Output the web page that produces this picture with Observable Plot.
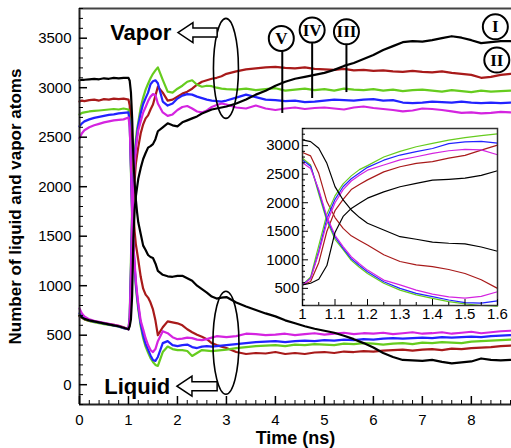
<!DOCTYPE html>
<html>
<head>
<meta charset="utf-8">
<script src="https://cdn.jsdelivr.net/npm/d3@7"></script>
<script src="https://cdn.jsdelivr.net/npm/@observablehq/plot@0.6"></script>
<style>
  html, body { margin: 0; padding: 0; background: #fff; }
  #wrap { position: relative; width: 511px; height: 448px; overflow: hidden; }
  #inset { position: absolute; left: 257px; top: 126px; }
</style>
</head>
<body>
<div id="wrap"><div id="main"></div><div id="inset"></div></div>
<script>
// ---- data ----
const time = [0, 0.05, 0.1, 0.2, 0.3, 0.4, 0.5, 0.6, 0.7, 0.8, 0.9,
  1.0, 1.025, 1.05, 1.075, 1.1, 1.125, 1.15, 1.175, 1.2, 1.25, 1.3, 1.35, 1.4, 1.45, 1.5, 1.55, 1.6,
  1.7, 1.8, 1.9, 2.0, 2.1, 2.2, 2.3, 2.4, 2.5, 2.6, 2.7, 2.8, 2.9, 3.0,
  3.2, 3.4, 3.6, 3.8, 4.0, 4.2, 4.4, 4.6, 4.8, 5.0, 5.2, 5.4, 5.6, 5.8, 6.0, 6.2, 6.4, 6.6, 6.8,
  7.0, 7.2, 7.4, 7.6, 7.8, 8.0, 8.2, 8.4, 8.6, 8.8];

const liquidI = [3075, 3080, 3080, 3085, 3090, 3085, 3095, 3090, 3100, 3095, 3100,
  3100, 3070, 2953, 2690, 2282, 2048, 1873, 1744, 1640, 1522, 1405, 1360, 1310, 1290, 1280, 1225, 1150,
  1110, 1095, 1090, 1100, 1100, 1075, 1050, 1000, 965, 930, 890, 870, 880, 885,
  830, 790, 755, 720, 690, 650, 620, 590, 565, 545, 525, 495, 460, 420, 375, 320, 280, 250, 245,
  240, 250, 230, 215, 225, 235, 265, 250, 245, 250];
const vaporI = [700, 680, 665, 650, 640, 630, 620, 610, 600, 590, 575,
  560, 590, 660, 900, 1480, 1760, 1900, 1990, 2080, 2190, 2280, 2340, 2395, 2410, 2430, 2480, 2560,
  2600, 2640, 2620, 2610, 2650, 2670, 2690, 2710, 2740, 2760, 2780, 2790, 2800, 2810,
  2840, 2880, 2930, 2970, 3020, 3060, 3090, 3110, 3130, 3150, 3180, 3220, 3250, 3290, 3330, 3380, 3420, 3460, 3470,
  3465, 3480, 3500, 3520, 3505, 3480, 3450, 3460, 3470, 3470];

const liquidII = [2860, 2870, 2865, 2875, 2880, 2870, 2885, 2880, 2890, 2885, 2890,
  2880, 2820, 2515, 2020, 1740, 1550, 1420, 1340, 1260, 1090, 970, 910, 880, 830, 760, 650, 500,
  580, 640, 630, 620, 600, 560, 530, 505, 485, 460, 420, 400, 385, 370,
  330, 310, 320, 315, 330, 310, 320, 310, 325, 330, 320, 335, 330, 340, 335, 345, 350, 355, 345,
  355, 360, 350, 365, 360, 370, 375, 380, 390, 395];
const vaporII = [690, 675, 660, 645, 635, 628, 620, 612, 605, 595, 580,
  560, 620, 950, 1500, 1860, 2060, 2230, 2320, 2400, 2540, 2630, 2690, 2720, 2780, 2830, 2920, 3010,
  2950, 2870, 2880, 2910, 2940, 2960, 2990, 3030, 3060, 3075, 3090, 3100, 3115, 3140,
  3165, 3185, 3195, 3205, 3210, 3200, 3195, 3205, 3190, 3185, 3180, 3190, 3175, 3180, 3170, 3175, 3165, 3160, 3170,
  3160, 3155, 3165, 3150, 3140, 3130, 3100, 3110, 3130, 3140];

const liquidIII = [2730, 2745, 2750, 2760, 2765, 2770, 2775, 2780, 2785, 2780, 2790,
  2780, 2660, 2150, 1680, 1360, 1180, 990, 870, 760, 590, 470, 385, 325, 268, 230, 200, 190,
  330, 385, 360, 350, 350, 340, 290, 320, 350, 345, 340, 345, 350, 355,
  370, 380, 390, 395, 400, 390, 405, 400, 410, 405, 400, 415, 410, 420, 415, 405, 415, 420, 410,
  425, 420, 430, 425, 420, 435, 440, 445, 450, 455];
const vaporIII = [700, 680, 662, 645, 632, 622, 612, 605, 595, 585, 570,
  560, 700, 1250, 1800, 2120, 2330, 2470, 2580, 2650, 2800, 2900, 2980, 3040, 3095, 3140, 3175, 3205,
  3080, 2960, 2950, 2990, 3020, 3060, 3075, 3030, 3010, 3020, 3015, 3000, 2990, 2985,
  2980, 2990, 2975, 2985, 2995, 2970, 2980, 2990, 2975, 2985, 2970, 2990, 2980, 2975, 2985, 2970, 2980, 2965, 2975,
  2980, 2970, 2960, 2975, 2965, 2955, 2970, 2960, 2965, 2970];

const liquidIV = [2610, 2640, 2660, 2680, 2695, 2705, 2715, 2725, 2730, 2740, 2745,
  2750, 2640, 2200, 1720, 1400, 1200, 1020, 900, 790, 615, 500, 412, 354, 296, 250, 240, 280,
  420, 440, 400, 390, 400, 405, 380, 370, 385, 390, 385, 390, 395, 400,
  410, 420, 430, 435, 440, 430, 440, 445, 440, 450, 445, 455, 450, 460, 455, 465, 470, 465, 470,
  475, 470, 480, 475, 480, 485, 480, 490, 495, 500];
const vaporIV = [720, 690, 670, 650, 638, 628, 618, 608, 598, 588, 572,
  560, 680, 1150, 1720, 2060, 2280, 2420, 2520, 2620, 2745, 2835, 2895, 2950, 3035, 3065, 3075, 3045,
  2860, 2820, 2840, 2890, 2920, 2935, 2930, 2910, 2895, 2880, 2870, 2865, 2860, 2870,
  2900, 2930, 2905, 2880, 2875, 2865, 2870, 2855, 2860, 2870, 2880, 2875, 2870, 2880, 2885, 2870, 2875, 2850, 2845,
  2850, 2860, 2855, 2850, 2860, 2850, 2845, 2850, 2845, 2850];

const liquidV = [2490, 2540, 2570, 2600, 2620, 2635, 2650, 2660, 2670, 2675, 2680,
  2700, 2600, 2230, 1760, 1430, 1230, 1055, 930, 820, 645, 560, 470, 400, 350, 330, 360, 440,
  540, 520, 480, 460, 465, 475, 470, 455, 450, 460, 475, 490, 485, 480,
  490, 515, 510, 500, 505, 515, 500, 510, 520, 505, 515, 525, 510, 520, 515, 525, 510, 520, 530,
  515, 520, 530, 515, 525, 535, 520, 530, 540, 545];
const vaporV = [770, 720, 690, 660, 645, 635, 625, 615, 605, 595, 578,
  560, 670, 1120, 1650, 2000, 2230, 2380, 2480, 2570, 2660, 2750, 2805, 2865, 2910, 2935, 2925, 2840,
  2750, 2715, 2730, 2775, 2805, 2815, 2790, 2760, 2750, 2770, 2805, 2825, 2840, 2830,
  2800, 2790, 2820, 2790, 2775, 2790, 2800, 2785, 2795, 2800, 2790, 2780, 2800, 2810, 2795, 2785, 2775, 2760, 2770,
  2790, 2785, 2775, 2760, 2745, 2750, 2740, 2745, 2755, 2750];

const seriesKeys = ["I", "II", "III", "IV", "V"];
const seriesColors = ["#000000", "#a81a1a", "#66cc1e", "#2222ff", "#d424e0"];
const liquidSeries = [liquidI, liquidII, liquidIII, liquidIV, liquidV];
const vaporSeries = [vaporI, vaporII, vaporIII, vaporIV, vaporV];

const xTicks = [0, 1, 2, 3, 4, 5, 6, 7, 8];
const yTicks = [0, 500, 1000, 1500, 2000, 2500, 3000, 3500];
const insetXTicks = [1, 1.1, 1.2, 1.3, 1.4, 1.5, 1.6];
const insetYTicks = [500, 1000, 1500, 2000, 2500, 3000];
const xTitle = "Time (ns)";
const yTitle = "Number of liquid and vapor atoms";

// annotations (data units)
const phaseLabels = [{t: 1.25, v: 3552, text: "Vapor"}, {t: 1.18, v: -20, text: "Liquid"}];
const ellipses = [{t: 3.0, v: 3190, rx: 12.5, ry: 50}, {t: 3.0, v: 419, rx: 13, ry: 51.5}];
const arrows = [{tip: 2.02, tail: 2.82, v: 3552}, {tip: 2.0, tail: 2.82, v: -20}];
const romanCircles = [
  {key: "V", t: 4.12, v: 3498},
  {key: "IV", t: 4.75, v: 3582},
  {key: "III", t: 5.45, v: 3565},
  {key: "I", t: 8.49, v: 3615},
  {key: "II", t: 8.52, v: 3279}
];
const leaders = [
  {t: 4.14, v1: 3380, v2: 2745},
  {t: 4.75, v1: 3451, v2: 2896},
  {t: 5.45, v1: 3431, v2: 2956}
];

// ---- build rows ----
function rowsFor(arr, filter) {
  const out = [];
  time.forEach((t, j) => { if (!filter || filter(t)) out.push({t, v: arr[j]}); });
  return out;
}
const drawOrder = [1, 2, 3, 4, 0];

function lineMarks(filter, sw) {
  const marks = [];
  for (const i of drawOrder) {
    marks.push(Plot.line(rowsFor(liquidSeries[i], filter), {x: "t", y: "v", stroke: seriesColors[i], strokeWidth: sw}));
    marks.push(Plot.line(rowsFor(vaporSeries[i], filter), {x: "t", y: "v", stroke: seriesColors[i], strokeWidth: sw}));
  }
  return marks;
}

const minorY = d3.range(-200, 3801, 100).filter(d => d % 500 !== 0);
const minorX = d3.range(0, 45).map(d => +(d * 0.2).toFixed(1)).filter(d => Math.abs(d - Math.round(d)) > 1e-6 && d <= 8.82);
const intFmt = d => String(d);

const font = "'Liberation Sans', Arial, sans-serif";

const chart = Plot.plot({
  width: 511, height: 448,
  marginLeft: 79, marginRight: 0, marginTop: 8, marginBottom: 44,
  x: {domain: [0, 8.82]},
  y: {domain: [-200, 3800]},
  style: {fontFamily: font, fontSize: "15px", color: "#000", background: "#fff"},
  marks: [
    ...lineMarks(null, 2.2),
    Plot.ruleX([0], {stroke: "#222", strokeWidth: 2}),
    Plot.ruleY([-200], {stroke: "#222", strokeWidth: 2}),
    Plot.ruleY([3800], {stroke: "#444", strokeWidth: 2}),
    Plot.axisY({ticks: yTicks, tickSize: 8, dx: 8, tickFormat: () => "", label: null, strokeWidth: 1.5}),
    Plot.axisY({ticks: minorY, tickSize: 4, dx: 4, tickFormat: () => "", label: null}),
    Plot.axisY({ticks: yTicks, tickSize: 0, tickPadding: 8, tickFormat: intFmt, label: null}),
    Plot.axisX({ticks: xTicks, tickSize: 8, dy: -8, tickFormat: () => "", label: null, strokeWidth: 1.5}),
    Plot.axisX({ticks: minorX, tickSize: 4, dy: -4, tickFormat: () => "", label: null}),
    Plot.axisX({ticks: xTicks, tickSize: 0, tickPadding: 10, tickFormat: intFmt, label: null}),
    Plot.text([xTitle], {frameAnchor: "bottom", dy: 34, lineAnchor: "middle", textAnchor: "middle", text: d => d, fontWeight: "bold", fontSize: 18, fill: "#000"}),
    Plot.text([yTitle], {frameAnchor: "left", dx: -64, rotate: -90, textAnchor: "middle", lineAnchor: "middle", text: d => d, fontWeight: "bold", fontSize: 17, fill: "#000"}),
    Plot.text(phaseLabels, {x: "t", y: "v", text: "text", fontWeight: "bold", fontSize: 22, fill: "#000"}),
    Plot.link(leaders, {x1: "t", x2: "t", y1: "v1", y2: "v2", stroke: "#000", strokeWidth: 2}),
    Plot.dot(romanCircles, {x: "t", y: "v", r: 12.5, fill: "#fff", stroke: "#000", strokeWidth: 2}),
    Plot.text(romanCircles, {x: "t", y: "v", text: "key", fontFamily: "'Liberation Serif', serif", fontWeight: "bold", fontSize: 17, fill: "#000"})
  ]
});
document.getElementById("main").appendChild(chart);

// ellipses and hollow arrows positioned through the chart's own scales
const sx = chart.scale("x"), sy = chart.scale("y");
const svg = d3.select(chart);
for (const e of ellipses) {
  svg.append("ellipse")
    .attr("cx", sx.apply(e.t)).attr("cy", sy.apply(e.v))
    .attr("rx", e.rx).attr("ry", e.ry)
    .attr("fill", "none").attr("stroke", "#000").attr("stroke-width", 1.6);
}
for (const a of arrows) {
  const x0 = sx.apply(a.tip), x1 = sx.apply(a.tail), y0 = sy.apply(a.v);
  const h = 15, hw = 10, sw = 4.5;
  const d = `M${x0},${y0} L${x0 + h},${y0 - hw} L${x0 + h},${y0 - sw} L${x1},${y0 - sw} L${x1},${y0 + sw} L${x0 + h},${y0 + sw} L${x0 + h},${y0 + hw} Z`;
  svg.append("path").attr("d", d).attr("fill", "#fff").attr("stroke", "#000").attr("stroke-width", 1.5).attr("stroke-linejoin", "miter");
}

// ---- inset ----
const insetMinorY = d3.range(200, 3301, 100).filter(d => d % 500 !== 0);
const insetMinorX = [1.05, 1.15, 1.25, 1.35, 1.45, 1.55];
const inset = Plot.plot({
  width: 246, height: 199,
  marginLeft: 45, marginRight: 6, marginTop: 2, marginBottom: 20,
  x: {domain: [1, 1.6]},
  y: {domain: [200, 3300]},
  style: {fontFamily: font, fontSize: "15px", color: "#000", background: "transparent", overflow: "visible"},
  marks: [
    Plot.frame({fill: "#fff", stroke: "none"}),
    ...lineMarks(t => t >= 1 && t <= 1.6, 1.2),
    Plot.frame({stroke: "#333", strokeWidth: 1.5}),
    Plot.axisY({ticks: insetYTicks, tickSize: 6, dx: 6, tickFormat: () => "", label: null}),
    Plot.axisY({ticks: insetMinorY, tickSize: 3, dx: 3, tickFormat: () => "", label: null}),
    Plot.axisY({ticks: insetYTicks, tickSize: 0, tickPadding: 3, tickFormat: intFmt, label: null}),
    Plot.axisX({ticks: insetXTicks, tickSize: 6, dy: -6, tickFormat: () => "", label: null}),
    Plot.axisX({ticks: insetMinorX, tickSize: 3, dy: -3, tickFormat: () => "", label: null}),
    Plot.axisX({ticks: insetXTicks, tickSize: 0, tickPadding: 3, tickFormat: d => String(+d.toFixed(1)), label: null})
  ]
});
document.getElementById("inset").appendChild(inset);
</script>
</body>
</html>
